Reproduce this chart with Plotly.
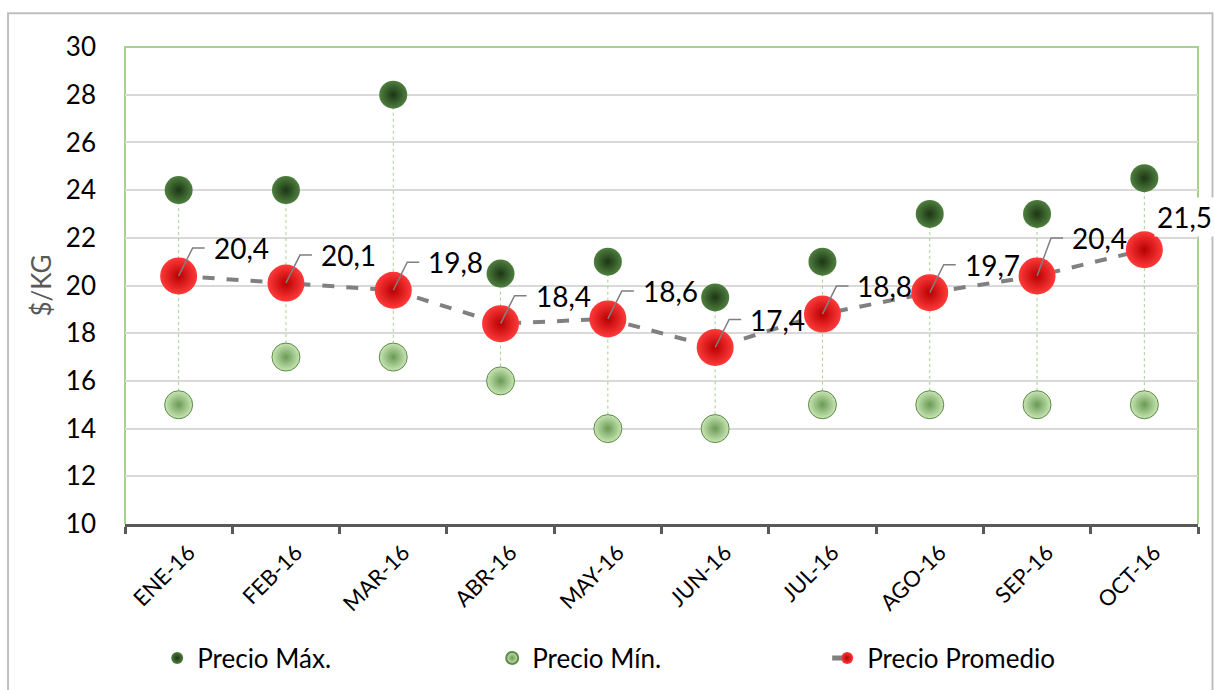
import plotly.graph_objects as go

months = ["ENE-16", "FEB-16", "MAR-16", "ABR-16", "MAY-16", "JUN-16", "JUL-16", "AGO-16", "SEP-16", "OCT-16"]
precio_max = [24, 24, 28, 20.5, 21, 19.5, 21, 23, 23, 24.5]
precio_min = [15, 17, 17, 16, 14, 14, 15, 15, 15, 15]
precio_prom = [20.4, 20.1, 19.8, 18.4, 18.6, 17.4, 18.8, 19.7, 20.4, 21.5]
y_ticks = [10, 12, 14, 16, 18, 20, 22, 24, 26, 28, 30]

FONT = "Lato"

fig = go.Figure()

# high-low lines
hx, hy = [], []
for m, hi, lo in zip(months, precio_max, precio_min):
    hx += [m, m, None]
    hy += [hi, lo, None]
fig.add_trace(go.Scatter(x=hx, y=hy, mode="lines", showlegend=False, hoverinfo="skip",
                         line=dict(color="#a9d08e", width=1, dash="dot")))

fig.add_trace(go.Scatter(x=months, y=precio_max, mode="markers", name="Precio Máx.",
                         marker=dict(size=28, color="#4f7f3f", line=dict(width=0),
                                     gradient=dict(type="radial", color="#1c3614"))))
fig.add_trace(go.Scatter(x=months, y=precio_min, mode="markers", name="Precio Mín.",
                         marker=dict(size=28, color="#c8e6b4", line=dict(width=1, color="#5d8a48"),
                                     gradient=dict(type="radial", color="#6a9a55"))))
fig.add_trace(go.Scatter(x=months, y=precio_prom, mode="lines+markers", name="Precio Promedio",
                         line=dict(color="#808080", width=4, dash="dash"),
                         marker=dict(size=37, color="#ff3a3a", line=dict(width=0),
                                     gradient=dict(type="radial", color="#b80000"))))

shapes = []
annotations = []
for i, (m, v) in enumerate(zip(months, precio_prom)):
    txt = f"{v:.1f}".replace(".", ",")
    if i == len(months) - 1:
        annotations.append(dict(x=m, y=v, xref="x", yref="y", text=txt, showarrow=False,
                                xanchor="left", yanchor="middle", xshift=10, yshift=33,
                                bgcolor="white", borderpad=2,
                                font=dict(family=FONT, size=28, color="black")))
        continue
    dy = 28 if i != 8 else 38
    shapes.append(dict(type="path", xref="x", yref="y", xsizemode="pixel", ysizemode="pixel",
                       xanchor=m, yanchor=v,
                       path=f"M0,0 L14,{dy} L26,{dy}",
                       line=dict(color="#7f7f7f", width=1.5), layer="above"))
    annotations.append(dict(x=m, y=v, xref="x", yref="y", text=txt, showarrow=False,
                            xanchor="left", yanchor="middle", xshift=33, yshift=dy,
                            font=dict(family=FONT, size=28, color="black")))

# plot-area border (green): left, top, right
shapes.append(dict(type="path", xref="paper", yref="paper", path="M0,0 L0,1 L1,1 L1,0",
                   line=dict(color="#a9d18e", width=2), layer="below"))
# chart-area outer border (gray)
shapes.append(dict(type="rect", xref="paper", yref="paper", x0=-0.109, x1=1.0135, y0=-0.5, y1=1.071,
                   line=dict(color="#bfbfbf", width=2), layer="below"))

fig.update_layout(
    width=1214, height=690,
    margin=dict(l=125, r=16, t=47, b=166, autoexpand=False),
    paper_bgcolor="white", plot_bgcolor="white",
    font=dict(family=FONT, color="black"),
    shapes=shapes, annotations=annotations,
    legend=dict(orientation="h", x=0.03, xanchor="left", y=-0.281, yanchor="middle",
                font=dict(family=FONT, size=26, color="black"), entrywidth=290,
                itemsizing="constant"),
    xaxis=dict(type="category", tickson="boundaries", ticks="outside", ticklen=7, tickwidth=3,
               tickcolor="#595959", showline=True, linecolor="#595959", linewidth=3,
               tickangle=-45, tickfont=dict(family=FONT, size=22, color="black"),
               ticklabelshift=10, ticklabelstandoff=4,
               showgrid=False, range=[-0.5, 9.5], automargin=False),
    yaxis=dict(range=[10, 30], tickvals=y_ticks, showgrid=True, gridcolor="#d9d9d9", gridwidth=1.5,
               showline=False, zeroline=False, ticks="", ticklabelstandoff=28, automargin=False,
               tickfont=dict(family=FONT, size=26, color="black"),
               title=dict(text="$/KG", font=dict(family=FONT, size=26, color="#595959"), standoff=6)),
)

fig.write_html("out.html", config={"displayModeBar": False},
               post_script="document.body.style.margin='0';document.body.style.overflow='hidden';")
